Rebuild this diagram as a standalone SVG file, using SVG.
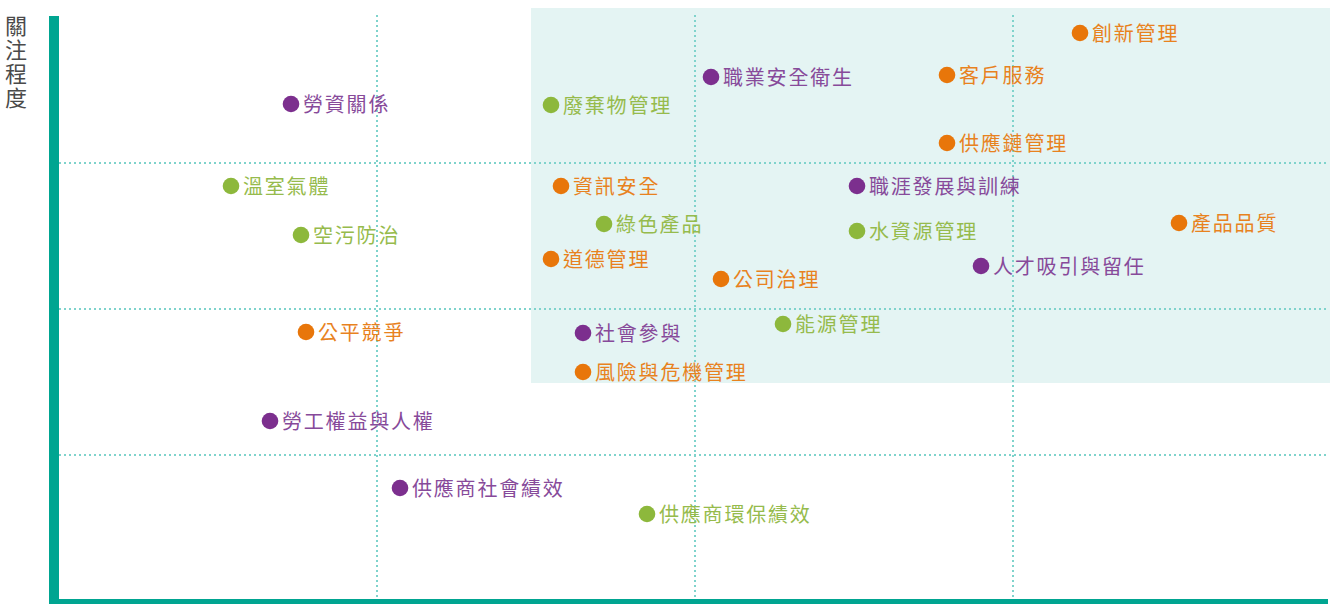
<svg xmlns="http://www.w3.org/2000/svg" width="1338" height="604" viewBox="0 0 1338 604">
<style>
.t{font-family:"Noto Sans CJK TC","Noto Sans CJK SC",sans-serif;font-size:20px;letter-spacing:1.8px}
.p{fill:#7c2f8e}.o{fill:#e8760a}.g{fill:#8db83c}
.tp{fill:#874a9a}.to{fill:#e8821e}.tg{fill:#96bb4c}
.grid{stroke:#7fd3cc;stroke-width:2;stroke-dasharray:2 3;fill:none}
</style>
<rect width="1338" height="604" fill="#ffffff"/>
<rect x="531" y="8" width="799" height="375" fill="#e4f4f3"/>
<g id="grid">
<line class="grid" x1="59" y1="163" x2="1326" y2="163"/>
<line class="grid" x1="59" y1="309" x2="1326" y2="309"/>
<line class="grid" x1="59" y1="455" x2="1326" y2="455"/>
<line class="grid" x1="377" y1="15" x2="377" y2="599"/>
<line class="grid" x1="695" y1="15" x2="695" y2="599"/>
<line class="grid" x1="1013" y1="15" x2="1013" y2="599"/>
</g>
<g id="axes">
<rect x="49" y="16" width="10" height="588" fill="#00a591"/>
<rect x="49" y="599" width="1279" height="5" fill="#00a591"/>
</g>
<g id="ylabel">
<text x="16" y="15" writing-mode="tb" font-family="'Noto Sans CJK TC',sans-serif" font-size="22" letter-spacing="2" fill="#4a4a4a">關注程度</text>
</g>
<g id="n1"><circle class="p" cx="291" cy="104" r="8.3"/><text class="t tp" x="303" y="112">勞資關係</text></g>
<g id="n2"><circle class="g" cx="231" cy="186" r="8.3"/><text class="t tg" x="243" y="194">溫室氣體</text></g>
<g id="n3"><circle class="g" cx="301" cy="235" r="8.3"/><text class="t tg" x="313" y="243">空污防治</text></g>
<g id="n4"><circle class="o" cx="306" cy="332" r="8.3"/><text class="t to" x="318" y="340">公平競爭</text></g>
<g id="n5"><circle class="p" cx="270" cy="421" r="8.3"/><text class="t tp" x="282" y="429">勞工權益與人權</text></g>
<g id="n6"><circle class="p" cx="400" cy="488" r="8.3"/><text class="t tp" x="412" y="496">供應商社會績效</text></g>
<g id="n7"><circle class="g" cx="647" cy="514" r="8.3"/><text class="t tg" x="659" y="522">供應商環保績效</text></g>
<g id="n8"><circle class="g" cx="551" cy="105" r="8.3"/><text class="t tg" x="563" y="113">廢棄物管理</text></g>
<g id="n9"><circle class="o" cx="561" cy="186" r="8.3"/><text class="t to" x="573" y="194">資訊安全</text></g>
<g id="n10"><circle class="g" cx="604" cy="224" r="8.3"/><text class="t tg" x="616" y="232">綠色產品</text></g>
<g id="n11"><circle class="o" cx="551" cy="259" r="8.3"/><text class="t to" x="563" y="267">道德管理</text></g>
<g id="n12"><circle class="o" cx="721" cy="279" r="8.3"/><text class="t to" x="733" y="287">公司治理</text></g>
<g id="n13"><circle class="p" cx="583" cy="333" r="8.3"/><text class="t tp" x="595" y="341">社會參與</text></g>
<g id="n14"><circle class="o" cx="583" cy="372" r="8.3"/><text class="t to" x="595" y="380">風險與危機管理</text></g>
<g id="n15"><circle class="g" cx="783" cy="324" r="8.3"/><text class="t tg" x="795" y="332">能源管理</text></g>
<g id="n16"><circle class="p" cx="711" cy="77" r="8.3"/><text class="t tp" x="723" y="85">職業安全衛生</text></g>
<g id="n17"><circle class="p" cx="857" cy="186" r="8.3"/><text class="t tp" x="869" y="194">職涯發展與訓練</text></g>
<g id="n18"><circle class="g" cx="857" cy="231" r="8.3"/><text class="t tg" x="869" y="239">水資源管理</text></g>
<g id="n19"><circle class="p" cx="981" cy="266" r="8.3"/><text class="t tp" x="993" y="274">人才吸引與留任</text></g>
<g id="n20"><circle class="o" cx="947" cy="75" r="8.3"/><text class="t to" x="959" y="83">客戶服務</text></g>
<g id="n21"><circle class="o" cx="947" cy="143" r="8.3"/><text class="t to" x="959" y="151">供應鏈管理</text></g>
<g id="n22"><circle class="o" cx="1080" cy="33" r="8.3"/><text class="t to" x="1092" y="41">創新管理</text></g>
<g id="n23"><circle class="o" cx="1179" cy="223" r="8.3"/><text class="t to" x="1191" y="231">產品品質</text></g>
<g id="connectors"></g>
</svg>
